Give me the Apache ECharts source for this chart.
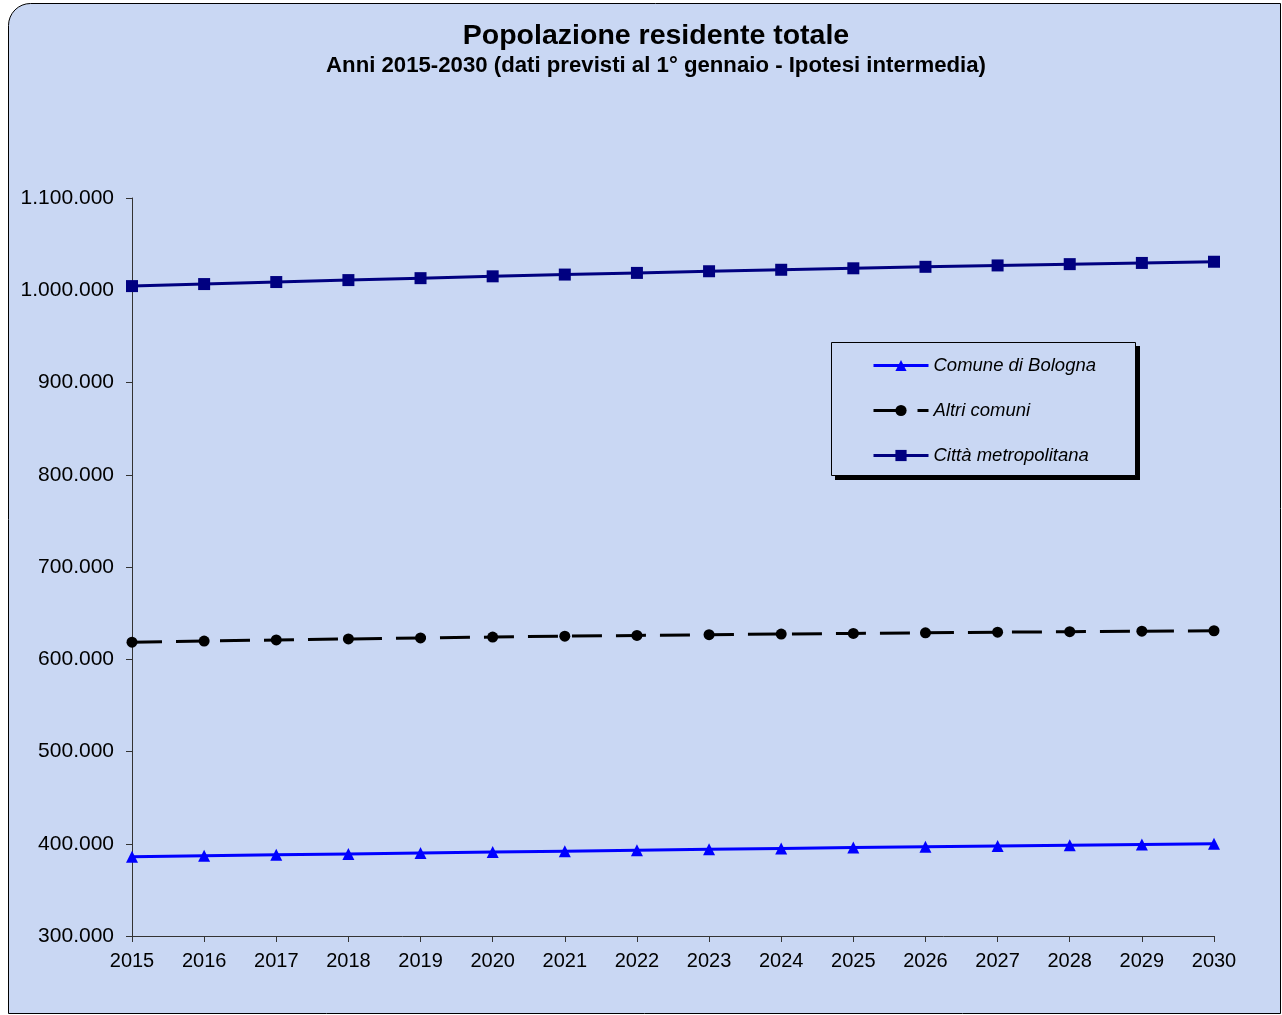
<!DOCTYPE html>
<html><head><meta charset="utf-8">
<script src="https://cdn.jsdelivr.net/npm/echarts@6/dist/echarts.min.js"></script>
<style>html,body{margin:0;padding:0;background:#fff;}#c{width:1282px;height:1015px;}</style>
</head><body><div id="c"></div>
<script>
const years = ['2015','2016','2017','2018','2019','2020','2021','2022','2023','2024','2025','2026','2027','2028','2029','2030'];
const bologna = [386000,387000,388000,389000,390000,391000,392000,393000,394000,394900,395800,396700,397600,398400,399200,400000];
const altri = [618500,619700,620900,622000,623100,624100,625000,625800,626600,627300,628000,628700,629300,629900,630400,630900];
const citta = [1004500,1006700,1008900,1011000,1013100,1015100,1017000,1018800,1020600,1022200,1023800,1025400,1026900,1028300,1029600,1030900];
const seriesNames = ['Comune di Bologna','Altri comuni','Città metropolitana'];

const BG = '#c9d7f3';
const FONT = '"Liberation Sans", Arial, sans-serif';
const chart = echarts.init(document.getElementById('c'), null, {renderer:'canvas'});
function fmt(v){return String(v).replace(/\B(?=(\d{3})+(?!\d))/g,'.');}
chart.setOption({
  backgroundColor:'#ffffff',
  animation:false,
  graphic:[
    {type:'rect', z:-10, shape:{x:8.5,y:3.5,width:1272,height:1010,r:[22,0,0,0]}, style:{fill:BG,stroke:'#000',lineWidth:1}},
    {type:'rect', z:-5, shape:{x:835,y:346,width:305,height:134}, style:{fill:'#000'}},
    {type:'rect', z:-4, shape:{x:831.5,y:342.5,width:304,height:133}, style:{fill:BG,stroke:'#000',lineWidth:1}}
  ],
  title:{
    text:'Popolazione residente totale',
    subtext:'Anni 2015-2030 (dati previsti al 1° gennaio - Ipotesi intermedia)',
    left:651, textAlign:'center', top:17, itemGap:4,
    textStyle:{fontFamily:FONT,fontSize:28.5,fontWeight:'bold',color:'#000'},
    subtextStyle:{fontFamily:FONT,fontSize:22.2,fontWeight:'bold',color:'#000'}
  },
  legend:{
    orient:'vertical', left:867, top:351, itemWidth:55, itemHeight:14, itemGap:26,
    data:seriesNames,
    lineStyle:{width:3},
    textStyle:{fontFamily:FONT,fontSize:18.5,fontStyle:'italic',color:'#000'}
  },
  grid:{left:132,right:68,top:198,bottom:79},
  xAxis:{
    type:'category', data:years, boundaryGap:false,
    axisLine:{lineStyle:{color:'#333',width:1}},
    axisTick:{show:true,alignWithLabel:true,length:6,lineStyle:{color:'#333'}},
    axisLabel:{fontFamily:FONT,fontSize:20,color:'#000',margin:15},
    splitLine:{show:false}
  },
  yAxis:{
    type:'value', min:300000, max:1100000, interval:100000,
    axisLine:{show:true,lineStyle:{color:'#333',width:1}},
    axisTick:{show:true,length:6,lineStyle:{color:'#333'}},
    axisLabel:{fontFamily:FONT,fontSize:21,color:'#000',margin:18,formatter:fmt},
    splitLine:{show:false}
  },
  series:[
    {name:seriesNames[0],type:'line',data:bologna,symbol:'triangle',symbolSize:12,
     lineStyle:{color:'#0000ff',width:3},itemStyle:{color:'#0000ff'}},
    {name:seriesNames[1],type:'line',data:altri,symbol:'circle',symbolSize:11,
     lineStyle:{color:'#000',width:3,type:[30,14]},itemStyle:{color:'#000'}},
    {name:seriesNames[2],type:'line',data:citta,symbol:'rect',symbolSize:12,
     lineStyle:{color:'#000080',width:3},itemStyle:{color:'#000080'}}
  ]
});
</script></body></html>
